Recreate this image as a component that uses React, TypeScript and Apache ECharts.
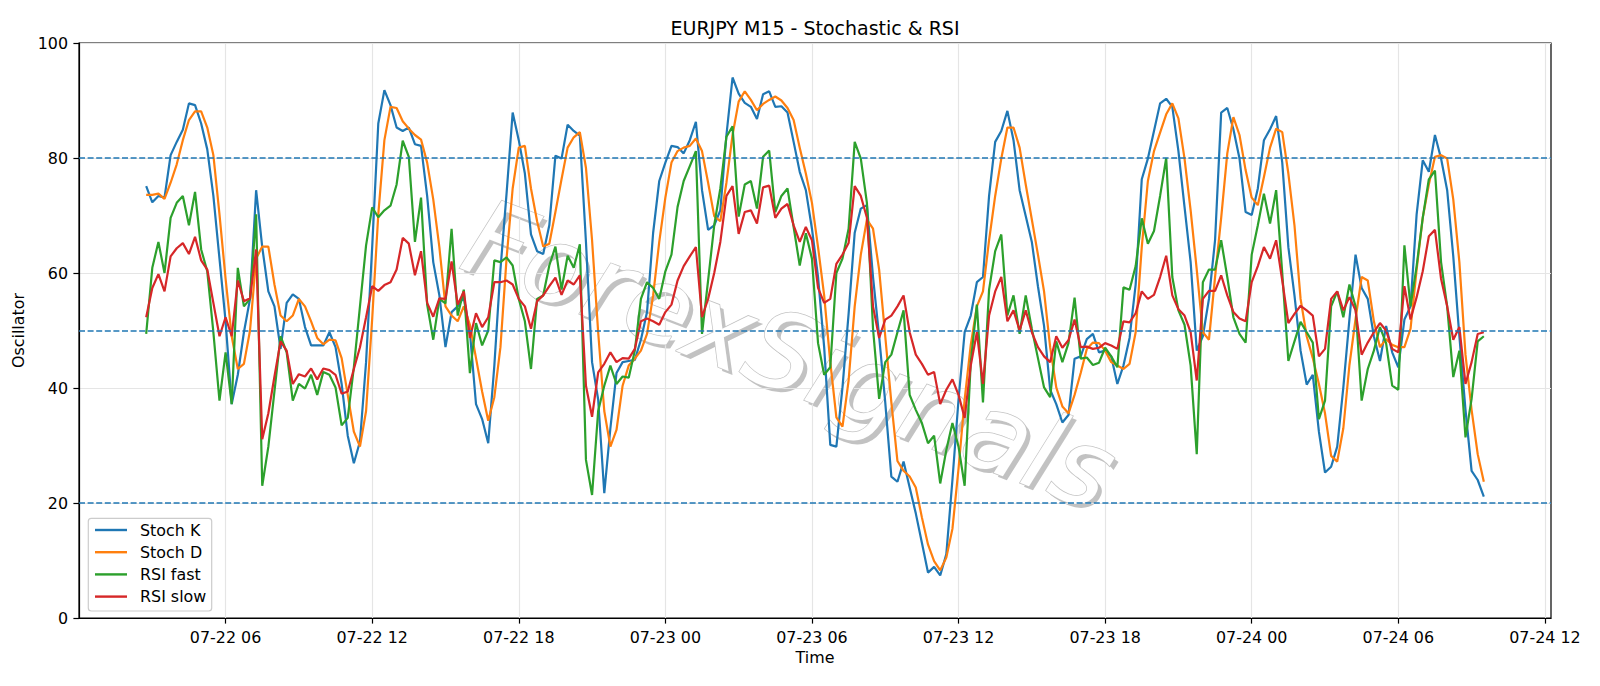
import React, { useEffect, useRef } from "react";
import * as echarts from "echarts";

// Time in 15-minute slots counted from 07-22 00:00; first bar at 02:45
const startSlot = 11;

const stochK = [
  75.1, 72.3, 73.4, 73.1, 80.5, 82.8, 84.9, 89.5, 89.2, 86.0,
  81.5, 73.4, 62.5, 51.6, 37.2, 42.3, 49.7, 55.5, 74.4, 64.5,
  56.8, 54.2, 46.8, 54.8, 56.3, 55.5, 50.6, 47.4, 47.4, 47.4,
  49.7, 47.1, 40.7, 31.7, 26.9, 30.7, 44.5, 64.5, 86.0, 91.8,
  89.2, 85.3, 84.7, 85.3, 82.4, 82.1, 73.4, 61.9, 56.1, 47.1,
  53.2, 54.2, 55.8, 49.7, 37.2, 34.6, 30.4, 43.9, 60.6, 73.8,
  87.9, 83.1, 77.3, 66.7, 63.8, 63.3, 68.3, 80.4, 79.9, 85.8,
  84.7, 83.9, 65.4, 44.5, 38.0, 21.7, 33.0, 42.6, 44.5, 44.7,
  44.9, 48.4, 53.2, 67.0, 76.0, 79.2, 82.1, 81.9, 80.8, 83.1,
  86.3, 74.4, 67.5, 68.3, 70.9, 84.0, 94.0, 91.2, 89.6, 88.9,
  86.8, 91.1, 91.6, 88.9, 89.0, 87.9, 82.8, 77.6, 74.4, 67.7,
  59.3, 47.1, 30.1, 29.8, 40.1, 52.9, 67.0, 71.2, 71.8, 59.3,
  49.0, 37.5, 24.6, 23.7, 27.2, 22.7, 18.2, 13.1, 7.9, 8.9,
  7.4, 11.1, 24.0, 38.0, 49.7, 52.6, 58.4, 59.3, 73.4, 82.8,
  84.7, 88.2, 83.1, 74.4, 69.9, 65.4, 57.7, 50.8, 39.7, 37.2,
  34.0, 35.3, 45.1, 45.5, 48.5, 49.4, 46.2, 46.5, 45.5, 40.7,
  43.9, 48.7, 58.0, 76.3, 79.9, 84.7, 89.5, 90.3, 88.9, 81.2,
  71.5, 61.9, 46.5, 49.0, 55.5, 65.7, 87.9, 88.7, 85.0, 79.9,
  70.6, 70.1, 74.7, 83.1, 85.0, 87.3, 79.2, 64.5, 56.1, 46.5,
  40.6, 42.3, 32.4, 25.3, 26.3, 29.8, 40.1, 52.0, 63.2, 57.4,
  55.5, 49.0, 44.7, 50.8, 46.2, 43.6, 51.9, 54.2, 70.2, 79.6,
  77.6, 84.0, 79.9, 74.4, 62.9, 49.0, 36.2, 25.6, 24.0, 21.1,
];

const stochD = [
  73.6, 73.6, 73.8, 72.9, 75.7, 78.9, 83.1, 86.6, 88.1, 88.1,
  85.3, 80.5, 70.2, 59.0, 49.0, 43.3, 44.2, 50.0, 62.5, 64.6,
  64.6, 58.0, 52.6, 51.6, 52.6, 55.5, 54.2, 51.6, 48.7, 47.6,
  48.4, 48.3, 45.2, 38.8, 32.4, 29.8, 36.0, 52.0, 70.2, 83.1,
  88.9, 88.7, 86.4, 85.1, 84.0, 83.2, 79.2, 72.8, 64.5, 54.2,
  52.6, 51.6, 54.2, 51.0, 45.2, 39.4, 34.3, 38.4, 47.1, 62.5,
  74.7, 81.8, 82.1, 74.7, 69.0, 64.6, 65.1, 70.6, 76.3, 81.8,
  83.6, 84.5, 78.3, 65.7, 49.7, 36.0, 29.8, 32.7, 40.4, 43.9,
  45.1, 46.5, 49.4, 56.1, 65.4, 73.1, 79.2, 81.2, 81.8, 82.1,
  83.4, 81.2, 75.7, 69.9, 69.0, 75.7, 84.0, 89.8, 91.6, 90.1,
  88.3, 89.4, 90.1, 90.7, 90.0, 88.7, 86.6, 81.8, 77.3, 72.2,
  64.5, 56.1, 44.5, 34.9, 33.3, 41.3, 54.2, 63.2, 69.3, 67.7,
  60.6, 49.0, 37.5, 27.3, 25.6, 24.6, 22.7, 17.5, 12.8, 9.9,
  8.3, 10.5, 15.5, 26.0, 38.0, 47.5, 54.2, 56.8, 65.7, 73.4,
  79.9, 85.3, 85.3, 81.8, 75.4, 69.3, 63.2, 56.8, 47.1, 40.1,
  36.8, 35.6, 38.8, 42.6, 46.8, 47.9, 47.8, 46.5, 44.5, 43.9,
  43.3, 44.2, 49.7, 64.5, 76.0, 81.2, 84.4, 87.6, 89.5, 86.9,
  79.9, 70.9, 60.6, 49.7, 48.4, 59.3, 69.6, 80.8, 87.1, 84.0,
  77.9, 73.1, 71.8, 76.7, 81.8, 85.1, 84.5, 77.3, 68.3, 55.5,
  49.0, 45.2, 40.7, 35.6, 28.2, 27.2, 33.0, 44.0, 52.0, 59.3,
  58.7, 51.6, 47.1, 48.5, 47.5, 47.1, 47.1, 50.3, 60.6, 69.6,
  75.4, 80.2, 80.5, 79.9, 72.8, 61.9, 45.8, 36.2, 28.5, 23.7,
];

const rsiFast = [
  49.4, 60.9, 65.4, 60.0, 69.6, 72.2, 73.4, 68.3, 74.1, 64.1,
  60.3, 49.7, 37.8, 46.2, 37.2, 60.9, 54.2, 55.5, 70.2, 23.0,
  29.8, 39.4, 49.0, 46.2, 37.8, 40.7, 39.9, 42.3, 38.8, 42.8,
  42.3, 40.1, 33.5, 34.8, 43.6, 54.2, 64.8, 71.4, 69.7, 70.9,
  71.7, 75.4, 83.0, 80.2, 65.4, 73.1, 54.5, 48.4, 55.5, 54.7,
  67.7, 52.6, 57.1, 42.6, 51.3, 47.4, 50.0, 62.2, 61.9, 62.7,
  61.3, 55.5, 51.6, 43.3, 55.5, 56.1, 61.3, 64.6, 57.1, 63.0,
  60.9, 65.0, 27.5, 21.4, 36.0, 40.4, 43.9, 40.7, 42.0, 41.8,
  46.5, 55.5, 58.4, 57.4, 55.5, 60.3, 63.2, 71.5, 76.0, 78.6,
  81.2, 49.4, 58.7, 68.3, 74.7, 83.7, 85.5, 69.8, 75.4, 76.0,
  71.2, 80.2, 81.3, 70.6, 73.4, 74.7, 68.0, 61.3, 66.9, 62.5,
  47.8, 42.3, 43.6, 60.0, 62.5, 67.7, 82.8, 79.9, 72.2, 50.3,
  38.1, 44.5, 45.8, 49.7, 53.5, 38.8, 36.2, 33.9, 30.4, 31.7,
  23.4, 29.2, 33.9, 29.8, 23.0, 44.5, 54.5, 37.5, 57.1, 63.8,
  66.7, 52.6, 56.1, 49.4, 56.1, 50.3, 45.2, 40.1, 38.4, 48.1,
  44.5, 47.8, 55.7, 45.1, 45.3, 44.0, 44.4, 47.0, 45.5, 43.6,
  57.5, 57.1, 61.2, 69.5, 65.1, 67.3, 73.4, 80.0, 59.3, 53.5,
  51.0, 43.9, 28.5, 58.4, 60.6, 60.6, 65.7, 59.3, 52.3, 49.4,
  47.9, 63.2, 68.3, 73.8, 68.6, 74.4, 60.0, 44.7, 48.1, 51.5,
  49.7, 47.9, 34.6, 37.8, 54.2, 56.8, 52.3, 58.0, 54.2, 37.8,
  43.3, 46.5, 50.6, 47.8, 40.4, 39.7, 64.8, 54.2, 61.2, 69.6,
  76.3, 77.8, 61.9, 54.2, 41.9, 46.5, 31.4, 38.1, 48.1, 49.0,
];

const rsiSlow = [
  52.3, 57.4, 59.8, 56.8, 62.9, 64.3, 65.2, 63.3, 66.3, 62.2,
  60.6, 54.8, 49.0, 52.3, 49.0, 58.7, 55.1, 55.6, 64.1, 31.1,
  35.6, 42.0, 48.1, 46.5, 40.7, 42.4, 42.0, 43.4, 41.5, 43.4,
  43.1, 42.3, 39.0, 39.4, 43.3, 47.1, 52.3, 57.7, 56.9, 57.9,
  58.4, 60.6, 66.1, 65.1, 59.6, 63.8, 54.8, 52.4, 55.6, 55.5,
  62.0, 54.5, 56.8, 48.7, 53.0, 50.6, 52.3, 58.4, 58.4, 58.7,
  58.0, 55.5, 54.2, 50.3, 55.1, 56.1, 57.7, 59.2, 56.2, 58.7,
  58.0, 59.6, 40.4, 35.0, 42.7, 44.2, 46.2, 44.5, 45.2, 45.1,
  46.8, 51.6, 52.1, 51.6, 51.0, 53.2, 54.5, 58.7, 61.2, 62.9,
  64.5, 52.3, 55.5, 60.0, 65.4, 73.4, 75.1, 66.8, 70.6, 70.9,
  68.6, 74.9, 75.2, 69.6, 71.2, 72.0, 68.3, 65.4, 68.0, 65.7,
  57.4, 54.8, 55.5, 61.6, 63.2, 65.2, 75.1, 73.4, 69.6, 54.2,
  48.7, 51.9, 52.6, 54.2, 56.1, 49.7, 45.8, 44.2, 42.3, 42.8,
  37.2, 39.7, 41.5, 38.8, 34.8, 43.9, 49.7, 40.7, 52.6, 56.8,
  59.3, 51.6, 53.5, 50.0, 53.5, 49.7, 47.1, 45.5, 44.5, 49.0,
  47.0, 48.3, 51.9, 47.1, 47.2, 46.8, 47.0, 47.8, 47.4, 46.8,
  51.6, 51.4, 53.0, 56.8, 55.5, 56.2, 59.3, 63.0, 56.1, 53.7,
  52.6, 49.7, 41.3, 55.5, 56.9, 56.9, 59.6, 56.1, 53.2, 52.1,
  51.6, 58.4, 61.2, 64.5, 62.5, 65.7, 58.7, 51.3, 52.9, 54.3,
  53.5, 52.6, 45.5, 46.8, 55.5, 56.8, 53.5, 55.8, 53.5, 45.8,
  47.9, 49.7, 51.3, 50.0, 46.8, 46.2, 57.7, 51.9, 55.8, 60.3,
  66.4, 67.5, 59.0, 54.2, 48.4, 50.6, 40.7, 44.5, 49.4, 49.7,
];

const tickValues = [24, 48, 72, 96, 120, 144, 168, 192, 216, 240];
const tickLabels = [
  "07-22 06", "07-22 12", "07-22 18", "07-23 00", "07-23 06",
  "07-23 12", "07-23 18", "07-24 00", "07-24 06", "07-24 12",
];
const levels = [20, 50, 80];
const seriesNames = ["Stoch K", "Stoch D", "RSI fast", "RSI slow"];
const seriesColors = ["#1f77b4", "#ff7f0e", "#2ca02c", "#d62728"];
const watermarkText = "ForexSignals";

const FONT = "DejaVu Sans";

export default function App() {
  const ref = useRef<HTMLDivElement>(null);

  useEffect(() => {
    if (!ref.current) return;
    const chart = echarts.init(ref.current, null, { renderer: "svg" });
    const allSeries = [stochK, stochD, rsiFast, rsiSlow];

    const series: any[] = allSeries.map((vals, si) => ({
      name: seriesNames[si],
      type: "line",
      data: vals.map((v, i) => [startSlot + i, v]),
      showSymbol: false,
      symbol: "none",
      color: seriesColors[si],
      lineStyle: { width: 2.2, color: seriesColors[si] },
      z: 2 + si * 0.01,
      markLine:
        si === 0
          ? {
              silent: true,
              symbol: "none",
              label: { show: false },
              lineStyle: { color: "#1f77b4", type: [6, 2.6], width: 1.5 },
              data: levels.map((v) => ({ yAxis: v })),
            }
          : undefined,
    }));

    const wmBase = {
      text: watermarkText,
      fontSize: 107,
      fontFamily: FONT,
      fontStyle: "italic",
      align: "center",
      verticalAlign: "middle",
    };
    const wmRot = (-21 * Math.PI) / 180;

    chart.setOption({
      animation: false,
      textStyle: { fontFamily: FONT },
      grid: {
        left: 79,
        top: 43,
        width: 1472,
        height: 575,
        show: true,
        borderColor: "#000",
        borderWidth: 1.2,
        backgroundColor: "transparent",
      },
      xAxis: {
        type: "value",
        min: 0,
        max: 241,
        interval: 24,
        name: "Time",
        nameLocation: "middle",
        nameGap: 30,
        nameTextStyle: { fontSize: 15.9, color: "#000", fontFamily: FONT },
        axisLine: { show: true, onZero: false, lineStyle: { color: "#000", width: 1.2 } },
        axisTick: {
          show: true,
          length: 5.6,
          customValues: tickValues,
          lineStyle: { color: "#000", width: 1.2 },
        },
        axisLabel: {
          customValues: tickValues,
          margin: 11,
          fontSize: 15.9,
          color: "#000",
          fontFamily: FONT,
          formatter: (v: number) => {
            const k = tickValues.indexOf(Math.round(v));
            return k >= 0 ? tickLabels[k] : "";
          },
        },
        splitLine: { show: true, lineStyle: { color: "#e5e5e5", width: 1.2 } },
      },
      yAxis: {
        type: "value",
        min: 0,
        max: 100,
        interval: 20,
        name: "Oscillator",
        nameLocation: "middle",
        nameGap: 39,
        nameTextStyle: { fontSize: 15.9, color: "#000", fontFamily: FONT },
        axisLine: { show: true, lineStyle: { color: "#000", width: 1.2 } },
        axisTick: { show: true, length: 5.6, lineStyle: { color: "#000", width: 1.2 } },
        axisLabel: { margin: 11, fontSize: 15.9, color: "#000", fontFamily: FONT },
        splitLine: { show: true, lineStyle: { color: "#e5e5e5", width: 1.2 } },
      },
      legend: {
        orient: "vertical",
        left: 95,
        top: 522,
        padding: 0,
        icon: "rect",
        itemWidth: 32,
        itemHeight: 2.4,
        itemGap: 6.2,
        data: seriesNames,
        textStyle: {
          fontSize: 15.9,
          lineHeight: 16,
          color: "#000",
          fontFamily: FONT,
          padding: [0, 0, 0, 8],
        },
        z: 5,
      },
      graphic: [
        {
          type: "text",
          x: 815,
          y: 28,
          style: {
            text: "EURJPY M15 - Stochastic & RSI",
            fontSize: 19,
            fontFamily: FONT,
            fill: "#000",
            align: "center",
            verticalAlign: "middle",
          },
        },
        {
          type: "text",
          x: 794,
          y: 359,
          rotation: wmRot,
          z: 0,
          silent: true,
          style: { ...wmBase, fill: "rgba(120,120,120,0.45)" },
        },
        {
          type: "text",
          x: 790,
          y: 355,
          rotation: wmRot,
          z: 1,
          silent: true,
          style: {
            ...wmBase,
            fill: "rgba(255,255,255,1)",
            stroke: "rgba(195,195,195,1)",
            lineWidth: 1.5,
          },
        },
        {
          type: "rect",
          z: 4,
          shape: { x: 88.3, y: 518.3, width: 123.4, height: 92.7, r: 3 },
          style: { fill: "rgba(255,255,255,0.8)", stroke: "#cccccc", lineWidth: 1.2 },
        },
      ],
      series,
    });

    return () => {
      chart.dispose();
    };
  }, []);

  return (
    <div
      ref={ref}
      style={{ position: "fixed", left: 0, top: 0, width: "1600px", height: "686px", background: "#fff" }}
    />
  );
}
